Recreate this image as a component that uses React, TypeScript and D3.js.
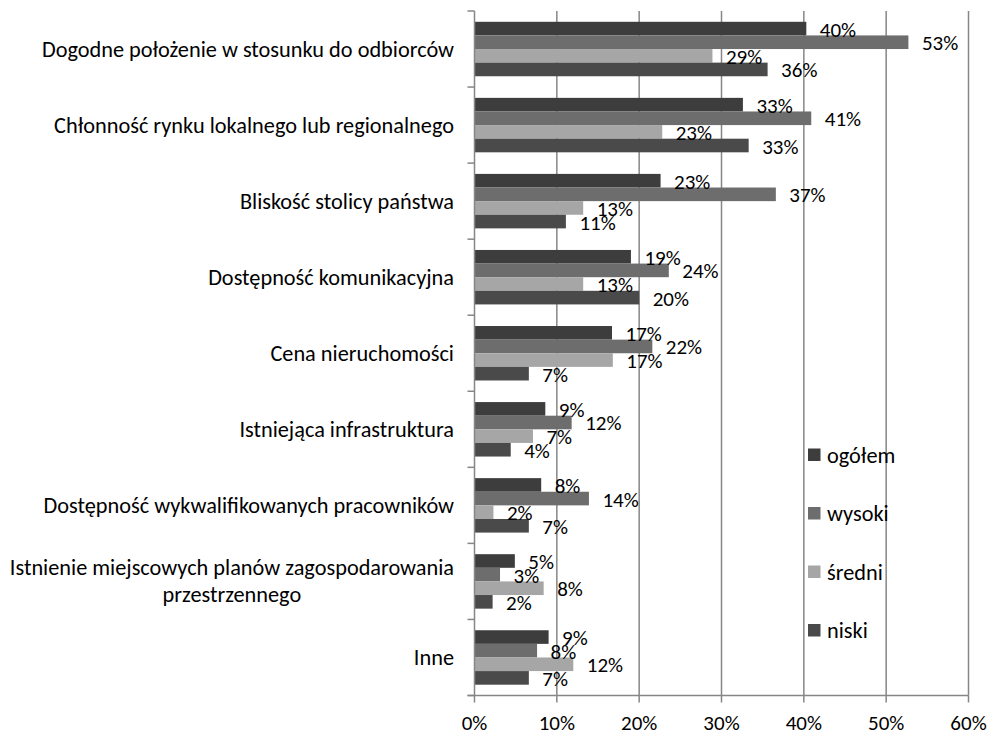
import React, { useEffect, useRef } from "react";
import * as d3 from "d3";

const categories = [
  "Dogodne położenie w stosunku do odbiorców",
  "Chłonność rynku lokalnego lub regionalnego",
  "Bliskość stolicy państwa",
  "Dostępność komunikacyjna",
  "Cena nieruchomości",
  "Istniejąca infrastruktura",
  "Dostępność wykwalifikowanych pracowników",
  "Istnienie miejscowych planów zagospodarowania\nprzestrzennego",
  "Inne",
];
const seriesNames = ["ogółem", "wysoki", "średni", "niski"];
const ogolem = [40.3, 32.6, 22.6, 19.0, 16.7, 8.6, 8.1, 4.9, 9.0];
const wysoki = [52.7, 40.9, 36.6, 23.6, 21.6, 11.8, 13.9, 3.1, 7.6];
const sredni = [28.9, 22.8, 13.2, 13.2, 16.8, 7.1, 2.3, 8.4, 12.0];
const niski = [35.6, 33.3, 11.1, 20.0, 6.6, 4.4, 6.6, 2.2, 6.6];
const xTicks = [0, 10, 20, 30, 40, 50, 60];
const colors = ["#3d3d3d", "#6d6d6d", "#a6a6a6", "#4a4a4a"];

const W = 990;
const H = 734;
const FONT = "Carlito, Calibri, Lato, sans-serif";
const FS = 22.3;
const FS_NUM = 21;

export default function App() {
  const ref = useRef<SVGSVGElement>(null);
  useEffect(() => {
    const svg = d3.select(ref.current);
    svg.selectAll("*").remove();
    const data = [ogolem, wysoki, sredni, niski];
    const x = d3.scaleLinear().domain([0, 60]).range([474.5, 968.5]);
    const y = d3
      .scaleBand<string>()
      .domain(categories)
      .range([11, 695.5])
      .paddingInner(0.284)
      .paddingOuter(0.142);
    const ySub = d3
      .scaleBand<string>()
      .domain(seriesNames)
      .range([0, y.bandwidth()]);
    const step = y.step();
    const top = 11;
    const bottom = 695.5;
    const axisColor = "#868686";

    // gridlines
    svg
      .append("g")
      .selectAll("line")
      .data(xTicks.slice(1))
      .join("line")
      .attr("x1", (d) => x(d))
      .attr("x2", (d) => x(d))
      .attr("y1", top)
      .attr("y2", bottom)
      .attr("stroke", axisColor)
      .attr("stroke-width", 1.5);

    // bars
    const g = svg.append("g");
    categories.forEach((c, i) => {
      seriesNames.forEach((s, j) => {
        const v = data[j][i];
        const by = (y(c) as number) + (ySub(s) as number);
        g.append("rect")
          .attr("x", x(0))
          .attr("y", by)
          .attr("width", x(v) - x(0))
          .attr("height", ySub.bandwidth())
          .attr("fill", colors[j]);
      });
    });
    // labels
    categories.forEach((c, i) => {
      seriesNames.forEach((s, j) => {
        const v = data[j][i];
        const by = (y(c) as number) + (ySub(s) as number) + ySub.bandwidth() / 2;
        g.append("text")
          .attr("x", x(v) + 13.5)
          .attr("y", by + 1)
          .attr("dominant-baseline", "central")
          .attr("font-family", FONT)
          .attr("font-size", FS_NUM)
          .attr("fill", "#000")
          .text(Math.round(v) + "%");
      });
    });

    // axes
    const ax = svg.append("g");
    ax.append("line")
      .attr("x1", x(0))
      .attr("x2", x(0))
      .attr("y1", top)
      .attr("y2", bottom)
      .attr("stroke", axisColor)
      .attr("stroke-width", 1.5);
    ax.append("line")
      .attr("x1", x(0) - 7)
      .attr("x2", x(60))
      .attr("y1", bottom)
      .attr("y2", bottom)
      .attr("stroke", axisColor)
      .attr("stroke-width", 1.5);
    for (let k = 0; k <= categories.length; k++) {
      ax.append("line")
        .attr("x1", x(0) - 7)
        .attr("x2", x(0))
        .attr("y1", top + k * step)
        .attr("y2", top + k * step)
        .attr("stroke", axisColor)
        .attr("stroke-width", 1.5);
    }
    xTicks.forEach((t) => {
      ax.append("line")
        .attr("x1", x(t))
        .attr("x2", x(t))
        .attr("y1", bottom)
        .attr("y2", bottom + 7)
        .attr("stroke", axisColor)
        .attr("stroke-width", 1.5);
      ax.append("text")
        .attr("x", x(t))
        .attr("y", 729.5)
        .attr("text-anchor", "middle")
        .attr("font-family", FONT)
        .attr("font-size", FS_NUM)
        .attr("fill", "#000")
        .text(t + "%");
    });

    // category labels
    const lab = svg.append("g");
    const rightX = 454;
    categories.forEach((c) => {
      const lines = c.split("\n");
      const cy = (y(c) as number) + y.bandwidth() / 2;
      const lh = 27;
      if (lines.length === 1) {
        lab.append("text")
          .attr("x", rightX)
          .attr("y", cy)
          .attr("dominant-baseline", "central")
          .attr("text-anchor", "end")
          .attr("font-family", FONT)
          .attr("font-size", FS)
          .attr("fill", "#000")
          .text(c);
      } else {
        const tmp = lab.append("text")
          .attr("font-family", FONT)
          .attr("font-size", FS)
          .text(lines[0]);
        let maxW = 0;
        lines.forEach((l) => {
          tmp.text(l);
          maxW = Math.max(maxW, (tmp.node() as SVGTextElement).getComputedTextLength());
        });
        tmp.remove();
        const centerX = rightX - maxW / 2;
        lines.forEach((l, k) => {
          lab.append("text")
            .attr("x", centerX)
            .attr("y", cy + (k - (lines.length - 1) / 2) * lh)
            .attr("dominant-baseline", "central")
            .attr("text-anchor", "middle")
            .attr("font-family", FONT)
            .attr("font-size", FS)
            .attr("fill", "#000")
            .text(l);
        });
      }
    });

    // legend
    const leg = svg.append("g");
    const legY = [455, 513.5, 572, 630.5];
    seriesNames.forEach((s, j) => {
      leg.append("rect")
        .attr("x", 808)
        .attr("y", legY[j] - 6.5)
        .attr("width", 12.5)
        .attr("height", 12.5)
        .attr("fill", colors[j]);
      leg.append("text")
        .attr("x", 827)
        .attr("y", legY[j])
        .attr("dominant-baseline", "central")
        .attr("font-family", FONT)
        .attr("font-size", FS)
        .attr("fill", "#000")
        .text(s);
    });
  }, []);
  return (
    <svg
      ref={ref}
      width={W}
      height={H}
      style={{ position: "absolute", left: 0, top: 0, background: "#fff" }}
    />
  );
}
